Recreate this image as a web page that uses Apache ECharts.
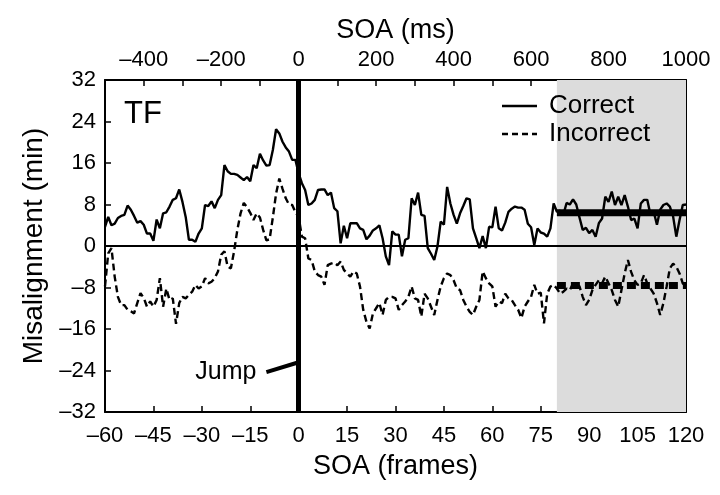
<!DOCTYPE html>
<html><head><meta charset="utf-8">
<script src="https://cdn.jsdelivr.net/npm/echarts@6/dist/echarts.min.js"></script>
<style>html,body{margin:0;padding:0;background:#fff}#c{width:720px;height:495px}</style>
</head><body><div id="c"></div>
<script>
// SOA in frames, sampled every frame from -60 to 120
const frameStart = -60;
const correct = [
3.7,5.6,4.0,4.3,5.4,5.8,6.0,7.8,7.0,5.8,
4.5,4.8,4.1,2.4,2.4,1.0,5.1,3.4,6.3,6.5,
7.6,8.9,9.2,10.9,8.5,5.6,1.2,1.2,0.8,2.4,
3.4,7.9,7.7,8.6,7.3,8.9,9.8,15.6,14.4,13.9,
13.9,13.7,13.2,12.7,13.3,12.5,15.6,15.0,17.8,16.5,
15.5,15.6,18.5,22.5,21.7,20.1,19.0,18.2,16.6,16.6,
14.0,12.1,10.8,7.9,8.2,8.9,10.8,10.9,10.9,9.8,
10.3,7.3,6.7,0.5,3.9,1.5,4.4,4.4,4.4,3.4,
3.1,1.3,2.0,3.0,3.4,4.0,1.5,-2.0,-3.7,2.8,
2.2,2.2,-2.0,1.2,1.5,9.2,7.9,10.3,6.0,5.8,
-0.4,-1.5,-2.7,-0.1,4.7,4.1,11.4,8.2,6.0,4.3,
6.3,7.7,9.2,9.0,3.4,1.5,-0.4,1.9,-0.4,3.7,
3.6,7.6,3.4,3.0,4.5,6.6,7.2,7.6,7.4,7.4,
7.0,4.3,3.6,0.2,3.4,2.6,2.4,1.8,3.4,8.2,
6.6,6.8,6.0,8.3,8.0,9.0,8.0,5.5,3.1,3.5,
2.5,3.1,1.8,4.4,5.3,9.5,8.5,10.5,7.9,9.5,
7.9,9.8,7.6,5.0,5.3,3.4,8.2,8.9,8.9,6.0,
6.6,4.1,7.0,7.9,8.2,7.6,5.7,1.8,5.0,7.9,8.0
];
const incorrect = [
-7.8,-1.4,-0.4,-5.9,-9.8,-11.4,-11.4,-12.3,-12.6,-13.0,
-11.0,-9.1,-10.0,-11.7,-10.7,-11.7,-10.4,-6.2,-11.7,-8.2,
-10.4,-10.1,-15.0,-11.0,-9.8,-10.1,-9.4,-8.8,-7.5,-8.2,
-7.8,-6.2,-7.2,-6.9,-6.2,-4.9,-1.7,-1.0,-4.0,-4.3,
-1.0,3.1,6.3,8.3,7.5,6.4,5.0,6.3,5.5,3.1,
1.1,1.3,5.5,10.1,13.0,11.0,9.2,8.0,7.9,6.5,
5.6,1.8,1.5,-2.4,-2.7,-4.9,-5.6,-5.9,-7.5,-3.7,
-3.4,-3.2,-3.7,-3.0,-4.6,-5.3,-5.9,-4.9,-5.3,-7.8,
-12.3,-14.6,-15.9,-13.0,-12.0,-11.0,-13.3,-10.4,-9.8,-9.8,
-10.1,-12.3,-11.4,-10.7,-9.8,-7.8,-10.1,-10.4,-13.6,-9.2,
-10.1,-11.7,-13.3,-10.4,-7.8,-6.2,-5.3,-5.6,-6.6,-8.2,
-8.5,-10.4,-11.7,-12.7,-13.3,-11.7,-10.4,-4.9,-6.2,-7.2,
-7.8,-11.7,-10.7,-11.0,-9.2,-10.1,-10.4,-11.4,-12.3,-13.9,
-11.7,-10.7,-9.8,-7.5,-9.2,-9.0,-14.9,-9.2,-7.8,-7.5,
-8.2,-9.2,-8.8,-8.2,-8.5,-7.2,-7.2,-7.8,-9.8,-11.4,
-10.4,-8.5,-7.5,-6.6,-7.2,-5.9,-7.2,-8.5,-10.4,-11.7,
-8.5,-5.3,-2.7,-5.0,-6.6,-7.5,-7.2,-5.6,-7.2,-8.2,
-9.2,-11.0,-13.3,-11.0,-7.8,-4.3,-3.4,-4.0,-5.3,-7.2,-7.8
];
const frames = correct.map((_, i) => frameStart + i);
const meanRange = [80, 120];
const meanCorrect = 6.4;
const meanIncorrect = -7.6;
const jumpX = [-10, -0.5];
const jumpY = [-24.3, -22.5];
const frameTicks = {min: -60, max: 120, step: 15};
const msTicks = {min: -500, max: 1000, step: 100, labelStep: 200};
const yTicks = {min: -32, max: 32, step: 8};

const FONT = 'Liberation Sans, Arial, sans-serif';
const dash = v => String(v).replace('-', '\u2013');
const chart = echarts.init(document.getElementById('c'), null, {renderer: 'canvas'});
const axisLine = {show: true, onZero: false, lineStyle: {color: '#000', width: 2}};
const tick = {show: true, inside: true, length: 6, lineStyle: {color: '#000', width: 1.5}};
chart.setOption({
  animation: false,
  backgroundColor: '#fff',
  grid: {left: 105, right: 34, top: 80, bottom: 83},
  xAxis: [{
    type: 'value', min: frameTicks.min, max: frameTicks.max, interval: frameTicks.step,
    position: 'bottom', axisLine, axisTick: tick, splitLine: {show: false},
    axisLabel: {color: '#000', fontSize: 22, fontFamily: FONT, margin: 13, formatter: dash},
    name: 'SOA (frames)', nameLocation: 'middle', nameGap: 41,
    nameTextStyle: {color: '#000', fontSize: 27, fontFamily: FONT}
  }, {
    type: 'value', min: msTicks.min, max: msTicks.max, interval: msTicks.step,
    position: 'top', axisLine, axisTick: tick, splitLine: {show: false},
    axisLabel: {color: '#000', fontSize: 22, fontFamily: FONT, margin: 9,
      formatter: v => (v % msTicks.labelStep === 0 ? dash(v) : '')},
    name: 'SOA (ms)', nameLocation: 'middle', nameGap: 36,
    nameTextStyle: {color: '#000', fontSize: 27, fontFamily: FONT}
  }],
  yAxis: [{
    type: 'value', min: yTicks.min, max: yTicks.max, interval: yTicks.step,
    position: 'left', axisLine, axisTick: tick, splitLine: {show: false},
    axisLabel: {color: '#000', fontSize: 22, fontFamily: FONT, margin: 9, formatter: dash},
    name: 'Misalignment (min)', nameLocation: 'middle', nameGap: 57,
    nameTextStyle: {color: '#000', fontSize: 28, fontFamily: FONT}
  }, {
    type: 'value', min: yTicks.min, max: yTicks.max, interval: yTicks.step,
    position: 'right', axisLine, axisTick: tick, splitLine: {show: false},
    axisLabel: {show: false}
  }],
  graphic: [
    {type: 'text', z: 100, left: 124, top: 99, style: {text: 'TF', fontSize: 31, fontFamily: FONT, fill: '#000'}},
    {type: 'line', z: 100, shape: {x1: 502, y1: 106, x2: 537, y2: 106}, style: {stroke: '#000', lineWidth: 2.4}},
    {type: 'text', z: 100, left: 549, top: 93, style: {text: 'Correct', fontSize: 26, fontFamily: FONT, fill: '#000'}},
    {type: 'line', z: 100, shape: {x1: 502, y1: 134, x2: 537, y2: 134}, style: {stroke: '#000', lineWidth: 2.4, lineDash: [6, 4]}},
    {type: 'text', z: 100, left: 549, top: 121, style: {text: 'Incorrect', fontSize: 26, fontFamily: FONT, fill: '#000'}}
  ],
  series: [
    {
      name: 'bg', type: 'line', data: [], silent: true, z: 1,
      markArea: {silent: true, itemStyle: {color: '#dcdcdc'},
        data: [[{xAxis: meanRange[0]}, {xAxis: meanRange[1]}]]},
      markLine: {silent: true, symbol: 'none', label: {show: false}, animation: false,
        data: [
          {yAxis: 0, lineStyle: {color: '#000', width: 2, type: 'solid'}}
        ]}
    },
    {
      name: 'Correct', type: 'line', showSymbol: false, symbol: 'none', z: 3,
      data: frames.map((f, i) => [f, correct[i]]),
      lineStyle: {color: '#000', width: 2.4}
    },
    {
      name: 'Incorrect', type: 'line', showSymbol: false, symbol: 'none', z: 3,
      data: frames.map((f, i) => [f, incorrect[i]]),
      lineStyle: {color: '#000', width: 2.4, type: [7, 4]}
    },
    {
      name: 'meanC', type: 'line', symbol: 'none', z: 4,
      data: meanRange.map(x => [x, meanCorrect]),
      lineStyle: {color: '#000', width: 7}
    },
    {
      name: 'meanI', type: 'line', symbol: 'none', z: 4,
      data: meanRange.map(x => [x, meanIncorrect]),
      lineStyle: {color: '#000', width: 7, type: [9, 5]}
    },
    {
      name: 'zeroV', type: 'line', data: [], z: 5,
      markLine: {silent: true, symbol: 'none', label: {show: false},
        data: [{xAxis: 0, lineStyle: {color: '#000', width: 5, type: 'solid'}}]}
    },
    {
      name: 'jump', type: 'line', z: 5,
      data: jumpX.map((x, i) => [x, jumpY[i]]),
      symbol: 'none', lineStyle: {color: '#000', width: 4},
      label: {show: false}
    },
    {
      name: 'jumpLabel', type: 'scatter', symbolSize: 0, z: 5,
      itemStyle: {color: '#000', opacity: 1},
      data: [[jumpX[0], jumpY[0]]],
      label: {show: true, position: 'left', distance: 10, formatter: 'Jump', color: '#000', opacity: 1, fontSize: 25, fontFamily: FONT}
    }
  ]
});
</script></body></html>
